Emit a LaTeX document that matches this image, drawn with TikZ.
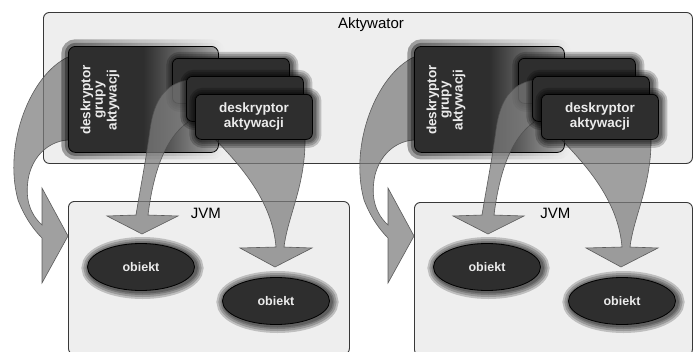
\documentclass[tikz,border=0pt]{standalone}
\usepackage{fontspec}
\setmainfont{Liberation Sans}
\usetikzlibrary{shapes.geometric,fadings,calc}
\definecolor{boxfill}{HTML}{2E2E2E}
\definecolor{panefill}{HTML}{EEEEEE}
\definecolor{paneline}{HTML}{383838}
\definecolor{arrowfill}{HTML}{7C7C7C}
\definecolor{arrowline}{HTML}{505050}
\pgfdeclarehorizontalshading{grpshade}{100bp}{color(0bp)=(boxfill); color(50bp)=(boxfill); color(70bp)=(black!45); color(88bp)=(panefill); color(100bp)=(panefill)}
\tikzset{
  pane/.style={draw=paneline, fill=panefill, line width=0.9pt, rounded corners=6pt,
               anchor=north west, inner sep=0pt},
  panelabel/.style={anchor=north, font=\fontsize{15}{17}\selectfont, inner sep=0pt},
  halo/.style={preaction={draw=black, draw opacity=#1, line width=15pt, transform canvas={xshift=1.5pt, yshift=-1pt}},
               preaction={draw=black, draw opacity=#1, line width=11pt, transform canvas={xshift=1.5pt, yshift=-1pt}},
               preaction={draw=black, draw opacity=#1, line width=7pt, transform canvas={xshift=1.5pt, yshift=-1pt}},
               preaction={draw=black, draw opacity=#1, line width=4pt, transform canvas={xshift=1.5pt, yshift=-1pt}}},
  halo/.default=0.2,
  desc/.style={draw=black, fill=boxfill, line width=0.8pt, rounded corners=6pt,
               minimum width=117pt, minimum height=45pt, inner sep=0pt, anchor=north west,
               text=white!92!black, font=\bfseries\fontsize{13.5}{15}\selectfont, align=center, halo},
  grpdesc/.style={draw=black, shading=grpshade, line width=0.8pt, rounded corners=7pt,
               minimum width=150pt, minimum height=106pt, inner sep=0pt, anchor=north west,
               preaction={draw=black, line width=14pt, draw opacity=0.35, path fading=east},
               preaction={draw=black, line width=7pt, draw opacity=0.35, path fading=east}},
  grptext/.style={text=white!92!black, font=\bfseries\fontsize{13.5}{12.5}\selectfont,
               align=center, rotate=90, inner sep=0pt},
  obj/.style={ellipse, draw=black, fill=boxfill, line width=0.8pt, minimum width=107pt,
               minimum height=47pt, inner sep=0pt, text=white!92!black,
               font=\bfseries\fontsize{12.5}{15}\selectfont, halo},
  bigarrow/.style={fill=arrowfill, fill opacity=0.72, draw=arrowline, draw opacity=0.9, line width=0.6pt},
}

\begin{document}
\begin{tikzpicture}[x=1pt, y=-1pt]
  \useasboundingbox (0,0) rectangle (693,351);
  % activator and the two virtual machines
  \node[pane, minimum width=649pt, minimum height=151pt] (akt) at (43,12) {};
  \node[panelabel] (akt-label) at ($(akt.north)+(3,5)$) {Aktywator};
  \node[pane, minimum width=281pt, minimum height=153pt] (jvm0) at (68,201) {};
  \node[pane, minimum width=278pt, minimum height=153pt] (jvm1) at (414,202) {};
  \node[panelabel] (jvm0-label) at ($(jvm0.north)+(-3,7)$) {JVM};
  \node[panelabel] (jvm1-label) at ($(jvm1.north)+(2,6)$) {JVM};

  \foreach \g/\dx in {0/0, 1/346} {
    \begin{scope}[xshift=\dx]
      % group descriptor -> jvm
      \draw[bigarrow] (68,57) .. controls (30,75) and (3,145) .. (18,200)
        .. controls (25,218) and (34,230) .. (42,238) -- (42,283) -- (68,236) -- (42,188) -- (42,225)
        .. controls (30,214) and (24,198) .. (29,175) .. controls (35,152) and (52,141) .. (68,140) -- cycle;
      \node[grpdesc] (grp\g) at (68,46) {};
      \node[grptext] (grp\g-text) at (100,100) {deskryptor\\grupy\\aktywacji};
      \node[desc] (desc\g-a) at (172,58) {};
      % first descriptor -> object
      \draw[bigarrow] (136,215) .. controls (140,190) and (146,160) .. (150,130)
        .. controls (154,100) and (165,84) .. (188,80) -- (188,122)
        .. controls (170,135) and (155,160) .. (148,215) -- (178,216) -- (142,234) -- (107,216) -- cycle;
      \node[desc] (desc\g-b) at (186,76) {};
      % second descriptor -> object
      \draw[bigarrow] (212,136) .. controls (240,165) and (272,200) .. (276,247) -- (240,248) -- (275,267)
        -- (312,248) -- (284,247) .. controls (288,215) and (306,185) .. (305,136) -- cycle;
      \node[desc] (desc\g-c) at (195,94) {deskryptor\\aktywacji};
      \node[obj] (obj\g-a) at (141,267) {obiekt};
      \node[obj] (obj\g-b) at (276,301) {obiekt};
    \end{scope}
  }
\end{tikzpicture}
\end{document}
